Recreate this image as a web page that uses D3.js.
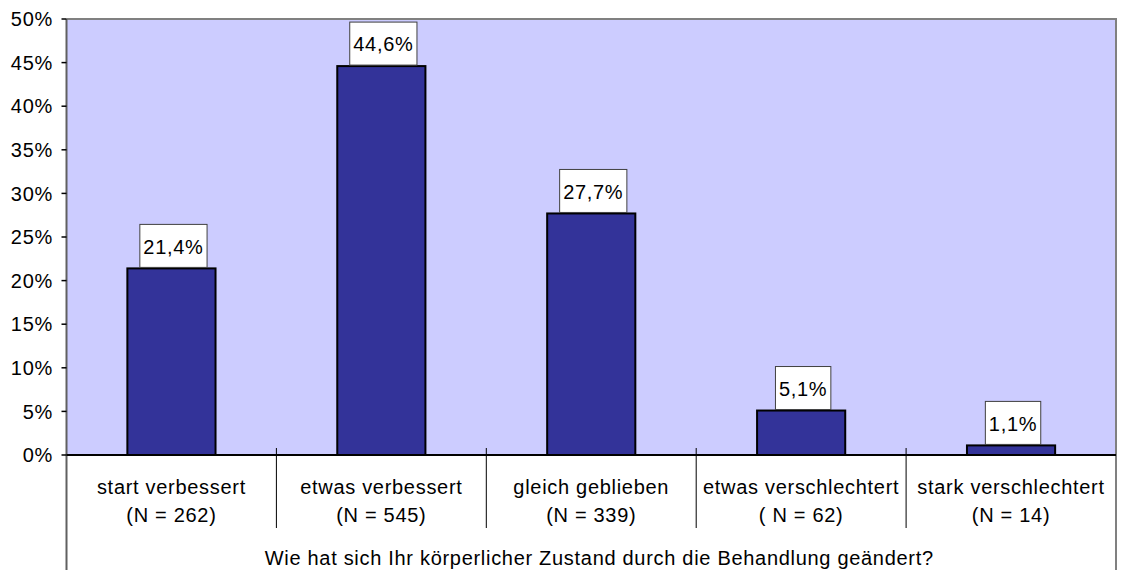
<!DOCTYPE html>
<html>
<head>
<meta charset="utf-8">
<script src="https://cdn.jsdelivr.net/npm/d3@7"></script>
<style>
  body { margin: 0; background: #fff; }
  svg text { font-family: "Liberation Sans", Arial, sans-serif; fill: #000; letter-spacing: 0.7px; }
</style>
</head>
<body>
<div id="chart"></div>
<script>
const categories = ["start verbessert", "etwas verbessert", "gleich geblieben", "etwas verschlechtert", "stark verschlechtert"]
const counts = ["(N = 262)", "(N = 545)", "(N = 339)", "( N = 62)", "(N = 14)"]
const values = [21.4, 44.6, 27.7, 5.1, 1.1]
const yTicks = [0, 5, 10, 15, 20, 25, 30, 35, 40, 45, 50]
const axisTitle = "Wie hat sich Ihr körperlicher Zustand durch die Behandlung geändert?"

const width = 1122, height = 570
const plotLeft = 66.5, plotRight = 1116, plotTop = 19, plotBottom = 455

const svg = d3.select("#chart").append("svg")
  .attr("width", width)
  .attr("height", height)

const x = d3.scaleBand()
  .domain(categories)
  .range([plotLeft, plotRight])
  .paddingInner(0)
  .paddingOuter(0)

const y = d3.scaleLinear()
  .domain([0, 50])
  .range([plotBottom, plotTop])

// plot background
svg.append("rect")
  .attr("x", plotLeft).attr("y", plotTop)
  .attr("width", plotRight - plotLeft).attr("height", plotBottom - plotTop)
  .attr("fill", "#ccccff")

// top + right border
svg.append("path")
  .attr("d", `M${plotLeft},${plotTop}H${plotRight}V${height}`)
  .attr("fill", "none")
  .attr("stroke", "#808080")
  .attr("stroke-width", 2)

// left axis line, runs down to the bottom
svg.append("line")
  .attr("x1", plotLeft).attr("x2", plotLeft)
  .attr("y1", plotTop).attr("y2", height)
  .attr("stroke", "#606060")
  .attr("stroke-width", 2)

// y ticks
const yAxis = svg.append("g").attr("id", "y-axis")
yAxis.selectAll("line")
  .data(yTicks)
  .enter()
  .append("line")
  .attr("x1", plotLeft - 5).attr("x2", plotLeft)
  .attr("y1", d => y(d)).attr("y2", d => y(d))
  .attr("stroke", "#000")
  .attr("stroke-width", 1.5)

yAxis.selectAll("text")
  .data(yTicks)
  .enter()
  .append("text")
  .attr("x", 53)
  .attr("y", d => y(d))
  .attr("dy", "0.36em")
  .attr("text-anchor", "end")
  .style("font-size", "20px")
  .text(d => d + "%")

// category separators
const seps = categories.slice(1).map(c => x(c))
svg.append("g").selectAll("line")
  .data(seps)
  .enter()
  .append("line")
  .attr("x1", d => d).attr("x2", d => d)
  .attr("y1", 448).attr("y2", 528)
  .attr("stroke", "#000")
  .attr("stroke-width", 1)

// bars
const barW = x.bandwidth() * 0.42
svg.append("g").selectAll("rect")
  .data(values)
  .enter()
  .append("rect")
  .attr("x", (d, i) => x(categories[i]) + x.bandwidth() / 2 - barW / 2)
  .attr("y", d => y(d))
  .attr("width", barW)
  .attr("height", d => plotBottom - y(d))
  .attr("fill", "#333399")
  .attr("stroke", "#000")
  .attr("stroke-width", 2)

// x axis line
svg.append("line")
  .attr("x1", plotLeft).attr("x2", plotRight)
  .attr("y1", plotBottom).attr("y2", plotBottom)
  .attr("stroke", "#000")
  .attr("stroke-width", 2)

// value labels
const labels = svg.append("g").attr("id", "labels")
values.forEach((v, i) => {
  const cx = x(categories[i]) + x.bandwidth() / 2
  const g = labels.append("g")
  const t = g.append("text")
    .attr("x", cx + 2)
    .attr("y", y(v) - 22)
    .attr("dy", "0.36em")
    .attr("text-anchor", "middle")
    .style("font-size", "20px")
    .text(v.toFixed(1).replace(".", ",") + "%")
  const tw = t.node().getComputedTextLength()
  g.insert("rect", "text")
    .attr("x", cx + 2 - tw / 2 - 3.5)
    .attr("y", y(v) - 44)
    .attr("width", tw + 7)
    .attr("height", 43)
    .attr("fill", "#fff")
    .attr("stroke", "#404040")
    .attr("stroke-width", 1)
})

// category labels
const catG = svg.append("g").attr("id", "categories")
catG.selectAll("text.cat")
  .data(categories)
  .enter()
  .append("text")
  .attr("class", "cat")
  .attr("x", d => x(d) + x.bandwidth() / 2)
  .attr("y", 487)
  .attr("dy", "0.36em")
  .attr("text-anchor", "middle")
  .style("font-size", "20px")
  .text(d => d)

catG.selectAll("text.n")
  .data(counts)
  .enter()
  .append("text")
  .attr("class", "n")
  .attr("x", (d, i) => x(categories[i]) + x.bandwidth() / 2)
  .attr("y", 515)
  .attr("dy", "0.36em")
  .attr("text-anchor", "middle")
  .style("font-size", "20px")
  .text(d => d)

svg.append("text")
  .attr("x", (plotLeft + plotRight) / 2 + 8)
  .attr("y", 558)
  .attr("dy", "0.36em")
  .attr("text-anchor", "middle")
  .style("font-size", "20px")
  .text(axisTitle)
</script>
</body>
</html>
